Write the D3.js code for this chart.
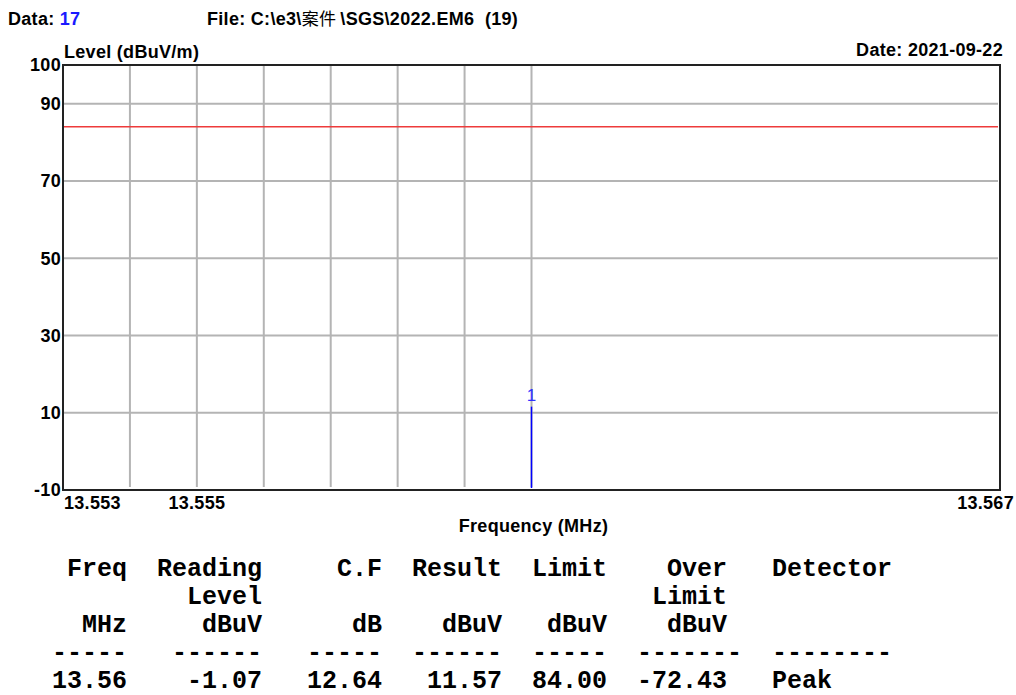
<!DOCTYPE html>
<html>
<head>
<meta charset="utf-8">
<script src="https://cdn.jsdelivr.net/npm/d3@7/dist/d3.min.js"></script>
<style>
  html, body { margin: 0; padding: 0; background: #fff; }
  svg { display: block; }
  text { white-space: pre; }
</style>
</head>
<body>
<svg id="chart" width="1016" height="695"></svg>
<script>
// ---------- data ----------
const dataNo = "17";
const fileLabel = "File: C:\\e3\\";
const fileCjk = "案件";
const fileRest = "\\SGS\\2022.EM6  (19)";
const dateLabel = "Date: 2021-09-22";
const yTitle = "Level (dBuV/m)";
const xTitle = "Frequency (MHz)";

const yDomain = [-10, 100];
const xDomain = [13.553, 13.567];
const yTickLabels = [100, 90, 70, 50, 30, 10, -10];
const yGridValues = [90, 70, 50, 30, 10];
const xGridValues = [13.554, 13.555, 13.556, 13.557, 13.558, 13.559, 13.560];
const xTickLabels = [13.553, 13.555, 13.567];
const limitValue = 84;
const markerIds = ["1"];
const markerFreqs = [13.56];
const markerLevels = [11.57];

const colHead1 = ["Freq", "Reading", "C.F", "Result", "Limit", "Over", "Detector"];
const colHead2 = ["", "Level", "", "", "", "Limit", ""];
const colUnits = ["MHz", "dBuV", "dB", "dBuV", "dBuV", "dBuV", ""];
const colDashes = ["-----", "------", "-----", "------", "-----", "-------", "--------"];
const rowValues = ["13.56", "-1.07", "12.64", "11.57", "84.00", "-72.43", "Peak"];

// ---------- layout ----------
const W = 1016, H = 695;
const plot = { left: 63, right: 1000, top: 65, bottom: 490 };
const svg = d3.select("#chart");
svg.append("rect").attr("width", W).attr("height", H).attr("fill", "#fff");

const x = d3.scaleLinear().domain(xDomain).range([plot.left, plot.right]);
const y = d3.scaleLinear().domain(yDomain).range([plot.bottom, plot.top]);

const sans = "'Liberation Sans', Arial, Helvetica, sans-serif";
const fs = 18;
const ls = "0.3px";

function bold(sel) {
  return sel.attr("font-family", sans).attr("font-weight", "bold")
    .attr("font-size", fs).attr("letter-spacing", ls);
}

// header
const hdr = bold(svg.append("text").attr("x", 8).attr("y", 25));
hdr.append("tspan").attr("fill", "#000").text("Data: ");
hdr.append("tspan").attr("fill", "#1a1aff").text(dataNo);

const ft = bold(svg.append("text").attr("x", 207).attr("y", 25)).attr("fill", "#000");
ft.append("tspan").text(fileLabel);
ft.append("tspan").attr("font-family", "'Noto Sans CJK SC', sans-serif").attr("font-weight", "normal")
  .attr("font-size", 17).text(fileCjk + " ");
ft.append("tspan").text(fileRest);

bold(svg.append("text").attr("x", plot.left + 1).attr("y", 58)).text(yTitle);
bold(svg.append("text").attr("x", 1003).attr("y", 56).attr("text-anchor", "end")).text(dateLabel);

// grid
const g = svg.append("g");
g.selectAll("line.hg").data(yGridValues).enter().append("line")
  .attr("x1", plot.left).attr("x2", plot.right - 2)
  .attr("y1", d => y(d)).attr("y2", d => y(d))
  .attr("stroke", "#b4b4b4").attr("stroke-width", 2);
g.selectAll("line.vg").data(xGridValues).enter().append("line")
  .attr("x1", d => x(d)).attr("x2", d => x(d))
  .attr("y1", plot.top).attr("y2", plot.bottom - 3)
  .attr("stroke", "#b4b4b4").attr("stroke-width", 2);

// limit line
g.append("line").attr("x1", plot.left).attr("x2", plot.right - 2)
  .attr("y1", y(limitValue)).attr("y2", y(limitValue))
  .attr("stroke", "#ee3b3b").attr("stroke-width", 1.6);

// markers
markerFreqs.forEach((f, i) => {
  g.append("line").attr("x1", x(f)).attr("x2", x(f))
    .attr("y1", y(markerLevels[i])).attr("y2", plot.bottom - 2)
    .attr("stroke", "#0000ff").attr("stroke-width", 1.5);
  g.append("text").attr("x", x(f)).attr("y", y(markerLevels[i]) - 6)
    .attr("text-anchor", "middle").attr("font-family", sans).attr("font-size", 17)
    .attr("fill", "#3030ff").text(markerIds[i]);
});

// frame
svg.append("rect").attr("x", plot.left).attr("y", plot.top)
  .attr("width", plot.right - plot.left).attr("height", plot.bottom - plot.top)
  .attr("fill", "none").attr("stroke", "#222").attr("stroke-width", 2);

// y labels
bold(svg.selectAll("text.yl").data(yTickLabels).enter().append("text")
  .attr("x", plot.left - 2).attr("y", d => y(d)).attr("dy", "0.36em")
  .attr("text-anchor", "end")).text(d => d);

// x labels
const xFmt = d3.format(".3f");
bold(svg.selectAll("text.xl").data(xTickLabels).enter().append("text")
  .attr("x", (d, i) => i === 0 ? x(d) + 1 : (i === xTickLabels.length - 1 ? x(d) + 14 : x(d)))
  .attr("y", 509)
  .attr("text-anchor", (d, i) => i === 0 ? "start" : (i === xTickLabels.length - 1 ? "end" : "middle")))
  .text(d => xFmt(d));

bold(svg.append("text").attr("x", (plot.left + plot.right) / 2 + 2).attr("y", 532)
  .attr("text-anchor", "middle")).text(xTitle);

// table
const mono = "'Liberation Mono', 'Courier New', monospace";
const x0 = 52, cw = 15;
const colEnd = [4, 13, 21, 29, 36, 44, null];
const detStart = 48;
const dashStart = [0, 8, 17, 24, 32, 39, 48];
const rowY = [576, 604, 632, 660, 688];
const tbl = svg.append("g").attr("font-family", mono).attr("font-weight", "bold")
  .attr("font-size", 25).attr("fill", "#000");
function cell(str, col, rowIdx, isDash) {
  if (!str) return;
  let start;
  if (isDash) start = dashStart[col];
  else if (colEnd[col] === null) start = detStart;
  else start = colEnd[col] - str.length + 1;
  tbl.append("text").attr("x", x0 + start * cw).attr("y", rowY[rowIdx]).text(str);
}
colHead1.forEach((s, i) => cell(s, i, 0));
colHead2.forEach((s, i) => cell(s, i, 1));
colUnits.forEach((s, i) => cell(s, i, 2));
colDashes.forEach((s, i) => cell(s, i, 3, true));
rowValues.forEach((s, i) => cell(s, i, 4));
</script>
</body>
</html>
